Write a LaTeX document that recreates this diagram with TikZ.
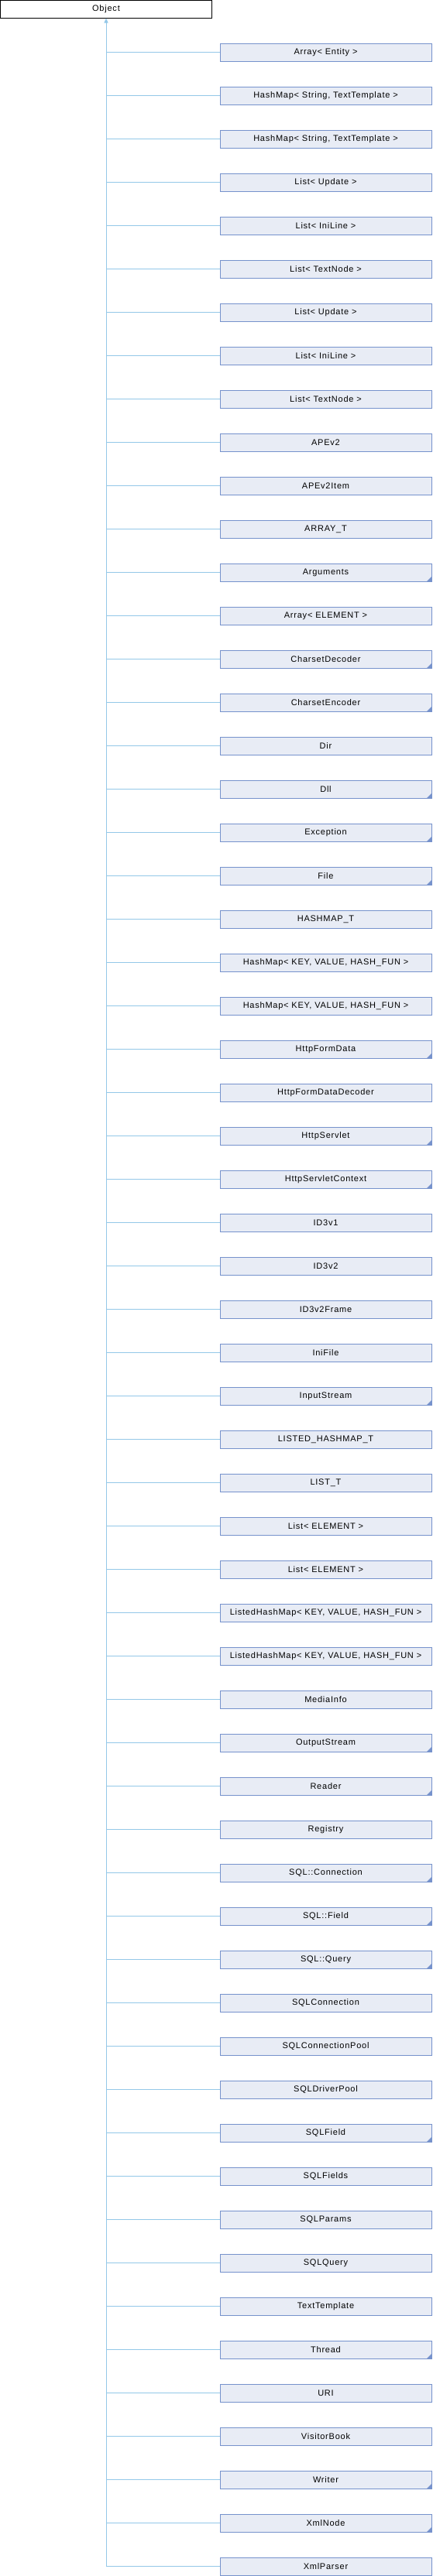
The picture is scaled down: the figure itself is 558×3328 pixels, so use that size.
\documentclass[tikz,border=0pt]{standalone}
\usepackage{fontspec}
\setmainfont{Liberation Sans}[LetterSpace=7]
\usepackage{xcolor}
\usetikzlibrary{arrows.meta, positioning}

\definecolor{edgeblue}{RGB}{148,200,232}
\definecolor{boxline}{RGB}{118,146,204}
\definecolor{boxfill}{RGB}{232,236,245}

\begin{document}
\begin{tikzpicture}[
    node distance=33pt,
    boxbase/.style={
        rectangle,
        draw,
        line width=1pt,
        minimum width=273pt,
        minimum height=23pt,
        inner sep=0pt,
        outer sep=0pt,
        font=\fontsize{11pt}{13pt}\selectfont
    },
    rootbox/.style={boxbase, draw=black, fill=white},
    box/.style={boxbase, draw=boxline, fill=boxfill},
    more/.style={
        box,
        path picture={\fill[boxline] (path picture bounding box.south east) -- ++(-6pt,0pt) -- ++(6pt,6pt) -- cycle;}
    },
    link/.style={draw=edgeblue, line width=1pt}
]

\useasboundingbox (0,0) rectangle (558pt,-3328pt);

\node[rootbox, anchor=north west] (object) at (0.5pt,-0.5pt) {Object};

\node[box, anchor=north west] (arrayentity) at (284pt,-56pt) {Array< Entity >};
\node[box, below=of arrayentity] (hashmaptexta) {HashMap< String, TextTemplate >};
\node[box, below=of hashmaptexta] (hashmaptextb) {HashMap< String, TextTemplate >};
\node[box, below=of hashmaptextb] (listupdatea) {List< Update >};
\node[box, below=of listupdatea] (listinilinea) {List< IniLine >};
\node[box, below=of listinilinea] (listtextnodea) {List< TextNode >};
\node[box, below=of listtextnodea] (listupdateb) {List< Update >};
\node[box, below=of listupdateb] (listinilineb) {List< IniLine >};
\node[box, below=of listinilineb] (listtextnodeb) {List< TextNode >};
\node[box, below=of listtextnodeb] (apev2) {APEv2};
\node[box, below=of apev2] (apev2item) {APEv2Item};
\node[box, below=of apev2item] (arrayt) {ARRAY\_T};
\node[more, below=of arrayt] (arguments) {Arguments};
\node[box, below=of arguments] (arrayelement) {Array< ELEMENT >};
\node[more, below=of arrayelement] (charsetdecoder) {CharsetDecoder};
\node[more, below=of charsetdecoder] (charsetencoder) {CharsetEncoder};
\node[box, below=of charsetencoder] (dir) {Dir};
\node[more, below=of dir] (dll) {Dll};
\node[more, below=of dll] (exception) {Exception};
\node[more, below=of exception] (file) {File};
\node[box, below=of file] (hashmapt) {HASHMAP\_T};
\node[box, below=of hashmapt] (hashmapkeya) {HashMap< KEY, VALUE, HASH\_FUN >};
\node[box, below=of hashmapkeya] (hashmapkeyb) {HashMap< KEY, VALUE, HASH\_FUN >};
\node[more, below=of hashmapkeyb] (httpformdata) {HttpFormData};
\node[box, below=of httpformdata] (httpformdatadecoder) {HttpFormDataDecoder};
\node[more, below=of httpformdatadecoder] (httpservlet) {HttpServlet};
\node[more, below=of httpservlet] (httpservletcontext) {HttpServletContext};
\node[box, below=of httpservletcontext] (id3v1) {ID3v1};
\node[box, below=of id3v1] (id3v2) {ID3v2};
\node[box, below=of id3v2] (id3v2frame) {ID3v2Frame};
\node[box, below=of id3v2frame] (inifile) {IniFile};
\node[more, below=of inifile] (inputstream) {InputStream};
\node[box, below=of inputstream] (listedhashmapt) {LISTED\_HASHMAP\_T};
\node[box, below=of listedhashmapt] (listt) {LIST\_T};
\node[box, below=of listt] (listelementa) {List< ELEMENT >};
\node[box, below=of listelementa] (listelementb) {List< ELEMENT >};
\node[box, below=of listelementb] (listedhashmapa) {ListedHashMap< KEY, VALUE, HASH\_FUN >};
\node[box, below=of listedhashmapa] (listedhashmapb) {ListedHashMap< KEY, VALUE, HASH\_FUN >};
\node[box, below=of listedhashmapb] (mediainfo) {MediaInfo};
\node[more, below=of mediainfo] (outputstream) {OutputStream};
\node[more, below=of outputstream] (reader) {Reader};
\node[box, below=of reader] (registry) {Registry};
\node[more, below=of registry] (nsconnection) {SQL::Connection};
\node[more, below=of nsconnection] (nsfield) {SQL::Field};
\node[more, below=of nsfield] (nsquery) {SQL::Query};
\node[box, below=of nsquery] (sqlconnection) {SQLConnection};
\node[box, below=of sqlconnection] (sqlconnectionpool) {SQLConnectionPool};
\node[box, below=of sqlconnectionpool] (sqldriverpool) {SQLDriverPool};
\node[more, below=of sqldriverpool] (sqlfield) {SQLField};
\node[box, below=of sqlfield] (sqlfields) {SQLFields};
\node[box, below=of sqlfields] (sqlparams) {SQLParams};
\node[box, below=of sqlparams] (sqlquery) {SQLQuery};
\node[box, below=of sqlquery] (texttemplate) {TextTemplate};
\node[more, below=of texttemplate] (thread) {Thread};
\node[box, below=of thread] (uri) {URI};
\node[box, below=of uri] (visitorbook) {VisitorBook};
\node[more, below=of visitorbook] (writer) {Writer};
\node[more, below=of writer] (xmlnode) {XmlNode};
\node[box, below=of xmlnode] (xmlparser) {XmlParser};

% trunk
\draw[link, {Triangle[width=5pt,length=6pt]}-] (object.south) -- (object.south |- xmlparser.west);

% branches
\draw[link] (object.south |- arrayentity.west) -- (arrayentity.west);
\draw[link] (object.south |- hashmaptexta.west) -- (hashmaptexta.west);
\draw[link] (object.south |- hashmaptextb.west) -- (hashmaptextb.west);
\draw[link] (object.south |- listupdatea.west) -- (listupdatea.west);
\draw[link] (object.south |- listinilinea.west) -- (listinilinea.west);
\draw[link] (object.south |- listtextnodea.west) -- (listtextnodea.west);
\draw[link] (object.south |- listupdateb.west) -- (listupdateb.west);
\draw[link] (object.south |- listinilineb.west) -- (listinilineb.west);
\draw[link] (object.south |- listtextnodeb.west) -- (listtextnodeb.west);
\draw[link] (object.south |- apev2.west) -- (apev2.west);
\draw[link] (object.south |- apev2item.west) -- (apev2item.west);
\draw[link] (object.south |- arrayt.west) -- (arrayt.west);
\draw[link] (object.south |- arguments.west) -- (arguments.west);
\draw[link] (object.south |- arrayelement.west) -- (arrayelement.west);
\draw[link] (object.south |- charsetdecoder.west) -- (charsetdecoder.west);
\draw[link] (object.south |- charsetencoder.west) -- (charsetencoder.west);
\draw[link] (object.south |- dir.west) -- (dir.west);
\draw[link] (object.south |- dll.west) -- (dll.west);
\draw[link] (object.south |- exception.west) -- (exception.west);
\draw[link] (object.south |- file.west) -- (file.west);
\draw[link] (object.south |- hashmapt.west) -- (hashmapt.west);
\draw[link] (object.south |- hashmapkeya.west) -- (hashmapkeya.west);
\draw[link] (object.south |- hashmapkeyb.west) -- (hashmapkeyb.west);
\draw[link] (object.south |- httpformdata.west) -- (httpformdata.west);
\draw[link] (object.south |- httpformdatadecoder.west) -- (httpformdatadecoder.west);
\draw[link] (object.south |- httpservlet.west) -- (httpservlet.west);
\draw[link] (object.south |- httpservletcontext.west) -- (httpservletcontext.west);
\draw[link] (object.south |- id3v1.west) -- (id3v1.west);
\draw[link] (object.south |- id3v2.west) -- (id3v2.west);
\draw[link] (object.south |- id3v2frame.west) -- (id3v2frame.west);
\draw[link] (object.south |- inifile.west) -- (inifile.west);
\draw[link] (object.south |- inputstream.west) -- (inputstream.west);
\draw[link] (object.south |- listedhashmapt.west) -- (listedhashmapt.west);
\draw[link] (object.south |- listt.west) -- (listt.west);
\draw[link] (object.south |- listelementa.west) -- (listelementa.west);
\draw[link] (object.south |- listelementb.west) -- (listelementb.west);
\draw[link] (object.south |- listedhashmapa.west) -- (listedhashmapa.west);
\draw[link] (object.south |- listedhashmapb.west) -- (listedhashmapb.west);
\draw[link] (object.south |- mediainfo.west) -- (mediainfo.west);
\draw[link] (object.south |- outputstream.west) -- (outputstream.west);
\draw[link] (object.south |- reader.west) -- (reader.west);
\draw[link] (object.south |- registry.west) -- (registry.west);
\draw[link] (object.south |- nsconnection.west) -- (nsconnection.west);
\draw[link] (object.south |- nsfield.west) -- (nsfield.west);
\draw[link] (object.south |- nsquery.west) -- (nsquery.west);
\draw[link] (object.south |- sqlconnection.west) -- (sqlconnection.west);
\draw[link] (object.south |- sqlconnectionpool.west) -- (sqlconnectionpool.west);
\draw[link] (object.south |- sqldriverpool.west) -- (sqldriverpool.west);
\draw[link] (object.south |- sqlfield.west) -- (sqlfield.west);
\draw[link] (object.south |- sqlfields.west) -- (sqlfields.west);
\draw[link] (object.south |- sqlparams.west) -- (sqlparams.west);
\draw[link] (object.south |- sqlquery.west) -- (sqlquery.west);
\draw[link] (object.south |- texttemplate.west) -- (texttemplate.west);
\draw[link] (object.south |- thread.west) -- (thread.west);
\draw[link] (object.south |- uri.west) -- (uri.west);
\draw[link] (object.south |- visitorbook.west) -- (visitorbook.west);
\draw[link] (object.south |- writer.west) -- (writer.west);
\draw[link] (object.south |- xmlnode.west) -- (xmlnode.west);
\draw[link] (object.south |- xmlparser.west) -- (xmlparser.west);

\end{tikzpicture}
\end{document}
